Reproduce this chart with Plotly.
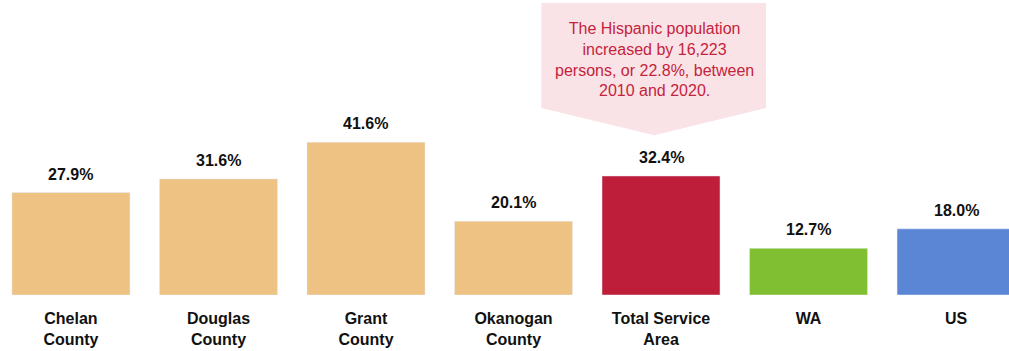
import plotly.graph_objects as go

categories = ["Chelan<br>County", "Douglas<br>County", "Grant<br>County", "Okanogan<br>County",
              "Total Service<br>Area", "WA", "US"]
values = [27.9, 31.6, 41.6, 20.1, 32.4, 12.7, 18.0]
colors = ["#EDC283", "#EDC283", "#EDC283", "#EDC283", "#BF1E3A", "#80BF31", "#5B86D6"]
callout_text = ("The Hispanic population<br>increased by 16,223<br>"
                "persons, or 22.8%, between<br>2010 and 2020.")

xs = list(range(len(values)))
narrow = "Liberation Sans Narrow, Arial Narrow, Liberation Sans, Arial, sans-serif"

fig = go.Figure(go.Bar(x=xs, y=values, marker_color=colors, width=0.8, hoverinfo="skip"))

for x, v in zip(xs, values):
    fig.add_annotation(x=x, y=v, text=f"<b>{v:.1f}%</b>", showarrow=False,
                       yanchor="bottom", yshift=8,
                       font=dict(family=narrow, size=16, color="#111111"))

# callout arrow box
fig.add_shape(type="path",
              path="M 3.189 79.5 L 4.712 79.5 L 4.712 50.9 L 3.954 43.5 L 3.189 50.9 Z",
              fillcolor="#FAE3E6", line=dict(width=0), layer="below")
fig.add_annotation(x=3.954, y=64.1, text=callout_text, showarrow=False,
                   font=dict(family="Liberation Sans, Arial, sans-serif", size=16, color="#C4233D"),
                   align="center")

fig.update_layout(
    width=1009, height=351,
    margin=dict(l=0, r=0, t=0, b=56),
    plot_bgcolor="white", paper_bgcolor="white",
    showlegend=False,
    xaxis=dict(range=[-0.481, 6.359], tickvals=xs, ticktext=[f"<b>{c}</b>" for c in categories],
               tickfont=dict(family=narrow, size=16, color="#111111"),
               ticklabelstandoff=12,
               showgrid=False, zeroline=False, showline=False, ticks=""),
    yaxis=dict(range=[0, 80.3], visible=False),
)

fig.write_html("out.html")
